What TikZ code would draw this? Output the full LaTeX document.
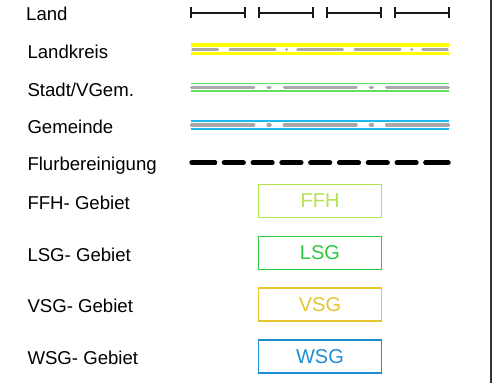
\documentclass[tikz,border=0pt]{standalone}
\usepackage{fontspec}
\setmainfont{Liberation Sans}
\definecolor{kreisyellow}{HTML}{FFFF00}
\definecolor{bordergray}{HTML}{A8A8A8}
\definecolor{stadtgreen}{HTML}{5EE05E}
\definecolor{gemblue}{HTML}{20B8F0}
\definecolor{ffhcol}{HTML}{B4E34D}
\definecolor{lsgcol}{HTML}{2FC93F}
\definecolor{vsgcol}{HTML}{E6C52E}
\definecolor{wsgcol}{HTML}{1C8FD4}
\begin{document}
\begin{tikzpicture}[x=1pt,y=-1pt,
  lbl/.style={anchor=base west,inner sep=0pt,font=\fontsize{18.6}{22}\selectfont},
  areabox/.style={draw=#1,text=#1,line width=1.4pt,minimum width=123.4pt,minimum height=33pt,inner sep=0pt,font=\fontsize{20}{24}\selectfont},
  landline/.style={line width=1.8pt,black!90},
  graydash/.style={bordergray,line width=3.4pt,line cap=round},
  thinbound/.style={line width=1.7pt}
]
\useasboundingbox (0,0) rectangle (492,383);
\fill[white] (0,0) rectangle (492,383);

% labels
\node[lbl] (tland) at (26,20) {Land};
\node[lbl] (tkreis) at (27.3,58.3) {Landkreis};
\node[lbl] (tstadt) at (27.3,96.7) {Stadt/VGem.};
\node[lbl] (tgem) at (27.3,133.3) {Gemeinde};
\node[lbl] (tflur) at (27.3,170.5) {Flurbereinigung};
\node[lbl] (tffh) at (27.3,209.3) {FFH- Gebiet};
\node[lbl] (tlsg) at (27.3,261.7) {LSG- Gebiet};
\node[lbl] (tvsg) at (27.3,312.3) {VSG- Gebiet};
\node[lbl] (twsg) at (27.3,364) {WSG- Gebiet};

% Land
\foreach \a/\b in {191/245,259/313,327/381,395/449}{
  \draw[landline] (\a,13) -- (\b,13);
  \draw[landline] (\a,7.3) -- (\a,18.3);
  \draw[landline] (\b,7.3) -- (\b,18.3);
}

% Landkreis
\coordinate (k1) at (191,49.2);
\coordinate (k2) at (449.3,49.2);
\draw[kreisyellow,line width=12pt] (k1) -- (k2);
\draw[white,line width=5pt] (k1) -- (k2);
\draw[graydash,dash pattern=on 44.9pt off 11.75pt on 0.01pt off 11.05pt on 44.8pt off 12.5pt,dash phase=87.7pt]
  (192.75,49.2) -- (447.25,49.2);

% Stadt/VGem.
\coordinate (s1) at (191,83.5);
\coordinate (s2) at (449.3,83.5);
\coordinate (s3) at (191,91.2);
\coordinate (s4) at (449.3,91.2);
\draw[stadtgreen,thinbound] (s1) -- (s2);
\draw[stadtgreen,thinbound] (s3) -- (s4);
\draw[graydash,dash pattern=on 71.7pt off 14.3pt on 2pt off 14.3pt,dash phase=9.6pt]
  (191.65,87.3) -- (448.35,87.3);

% Gemeinde
\coordinate (g1) at (191,121);
\coordinate (g2) at (449.3,121);
\coordinate (g3) at (191,129);
\coordinate (g4) at (449.3,129);
\draw[gemblue,thinbound] (g1) -- (g2);
\draw[gemblue,line width=2.3pt] (g3) -- (g4);
\draw[graydash,dash pattern=on 71.7pt off 14.3pt on 2pt off 14.3pt,dash phase=9.6pt]
  (191.65,125) -- (448.35,125);

% Flurbereinigung
\draw[black,line width=5pt,line cap=round,dash pattern=on 19.2pt off 9.6pt,dash phase=25.2pt]
  (191.8,162.7) -- (448.2,162.7);
\draw[black,line width=5pt,line cap=round] (191.8,162.7) -- (214.7,162.7);
\draw[black,line width=5pt,line cap=round] (425.8,162.7) -- (448.2,162.7);

% area boxes
\node[areabox=ffhcol] (bffh) at (320,200.8) {FFH};
\node[areabox=lsgcol] (blsg) at (320,253) {LSG};
\node[areabox=vsgcol] (bvsg) at (320,304.5) {VSG};
\node[areabox=wsgcol] (bwsg) at (320,356.4) {WSG};

% right frame line
\draw[black!80,line width=1.3pt] (491,0) -- (491,383);
\end{tikzpicture}
\end{document}
